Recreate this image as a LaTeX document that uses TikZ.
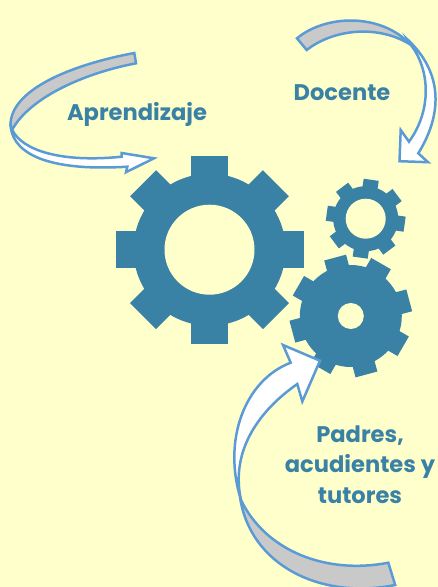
\documentclass[tikz,border=0pt]{standalone}
\usepackage{fontspec}
\setmainfont{Poppins}
\definecolor{pagebg}{HTML}{FFFFCC}
\definecolor{gearblue}{HTML}{3A82A5}
\definecolor{arrowline}{HTML}{5B9BD5}
\definecolor{arrowgrey}{HTML}{C9C9C9}
\tikzset{
  cogfill/.style={fill=gearblue,draw=none},
  cogholefill/.style={fill=pagebg,draw=none},
  ribbonfront/.style={fill=white,draw=arrowline,line width=2.5pt,line join=miter,miter limit=8},
  ribbonback/.style={fill=arrowgrey,draw=arrowline,line width=2.5pt,line join=miter,miter limit=8},
  label/.style={text=gearblue,font=\fontsize{22.6}{30.5}\selectfont\bfseries,align=center,inner sep=0pt}
}
% #1 centre, #2 body radius, #3 tooth radius, #4 tooth half width, #5 hole radius, #6 first tooth angle (clockwise)
\newcommand\cogwheel[6]{%
  \begin{scope}[shift={#1}]
    \fill[cogfill] (0,0) circle[radius=#2pt];
    \foreach \k in {0,...,7}{
      \fill[cogfill,rotate={-(#6)-45*\k}] (#2-3,-#4) -- (#3,-#4) -- (#3,#4) -- (#2-3,#4) -- cycle;
    }
    \fill[cogholefill] (0,0) circle[radius=#5pt];
  \end{scope}}
\begin{document}
\begin{tikzpicture}[x=1pt,y=-1pt]
\useasboundingbox (0,0) rectangle (438,587);
\fill[pagebg] (0,0) rectangle (438,587);
% gears
\cogwheel{(209.5,249.7)}{76}{94}{18.4}{45}{0}
\cogwheel{(365.7,218.7)}{32.5}{39.3}{7.6}{20}{8}
\cogwheel{(350.8,316)}{51}{60.5}{11.3}{13}{30}
% Aprendizaje arrow
\path[ribbonfront] (10.5,123) .. controls (10.5,150) and (40,172) .. (127.3,166.7)
  -- (126,172.2) -- (154,158.3) -- (121.7,153) -- (121.7,156.7)
  .. controls (60,163) and (22,150) .. (12.3,130) -- cycle;
\path[ribbonback] (134.3,53) .. controls (70,65) and (10.5,90) .. (10.5,125)
  -- (12,130) .. controls (30,97) and (85,73) .. (136,63.3) -- cycle;
% Docente arrow
\path[ribbonfront] (408,40) .. controls (440,70) and (445,110) .. (418.3,153.3)
  -- (428,162.2) -- (399.5,161.2) -- (400.7,130) -- (409,141.7)
  .. controls (432,110) and (430,70) .. (411,45) -- cycle;
\path[ribbonback] (297,38.3) .. controls (325,15) and (380,12) .. (411,45)
  .. controls (380,25) and (335,28) .. (306.7,50) -- cycle;
% Padres arrow
\path[ribbonfront] (241,500) .. controls (222,440) and (245,380) .. (290.7,362.7)
  -- (283,345) -- (320,360.7) -- (302.3,401.5) -- (297.3,384)
  .. controls (260,410) and (230,450) .. (241,500) -- cycle;
\path[ribbonback] (240,497) .. controls (250,565) and (320,600) .. (395.2,585)
  -- (388.3,562.7) .. controls (325,575) and (265,550) .. (241,500) -- cycle;
% labels
\node[label] (aprendizaje) at (137,114.5) {Aprendizaje};
\node[label] (docente) at (342,92.5) {Docente};
\node[label] (padres) at (360,464.5) {Padres,\\acudientes y\\tutores};
\end{tikzpicture}
\end{document}
